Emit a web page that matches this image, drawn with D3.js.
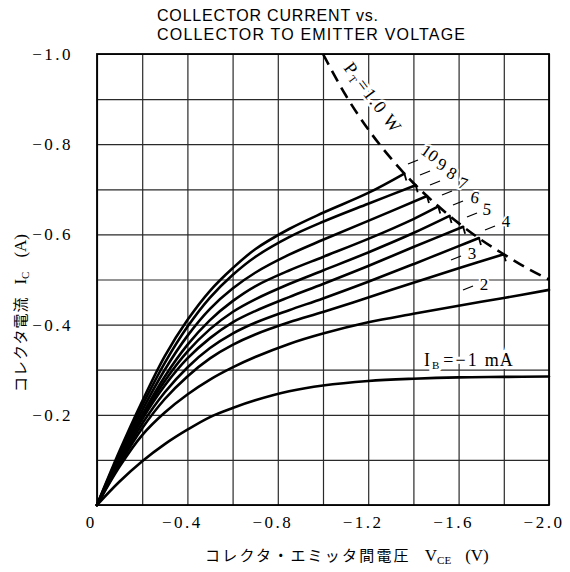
<!DOCTYPE html>
<html><head><meta charset="utf-8">
<script src="https://cdn.jsdelivr.net/npm/d3@7"></script>
<style>body{margin:0;background:#fff}svg{display:block}</style>
</head><body><svg id="c" width="570" height="572"></svg>
<script>
// ---------- data ----------
const xTickValues = [0, -0.4, -0.8, -1.2, -1.6, -2.0];
const yTickValues = [-0.2, -0.4, -0.6, -0.8, -1.0];
const ibNames = ["−1", "−2", "−3", "−4", "−5", "−6", "−7", "−8", "−9", "−10"];
const vce = [0, -0.1, -0.2, -0.3, -0.4, -0.5, -0.6, -0.7, -0.85, -1.0, -1.2, -1.4, -1.6, -1.8, -2.0];
const ic1  = [0, -0.052, -0.097, -0.135, -0.167, -0.195, -0.215, -0.232, -0.252, -0.265, -0.275, -0.280, -0.283, -0.284, -0.285];
const ic2  = [0, -0.085, -0.155, -0.205, -0.245, -0.278, -0.305, -0.328, -0.357, -0.380, -0.405, -0.424, -0.442, -0.459, -0.477];
const ic3  = [0, -0.090, -0.170, -0.235, -0.285, -0.325, -0.355, -0.378, -0.405, -0.428, -0.460, -0.493, -0.525];
const ic4  = [0, -0.095, -0.180, -0.250, -0.305, -0.348, -0.380, -0.404, -0.432, -0.458, -0.495, -0.534, -0.574];
const ic5  = [0, -0.100, -0.190, -0.265, -0.325, -0.370, -0.405, -0.430, -0.461, -0.490, -0.530, -0.572];
const ic6  = [0, -0.100, -0.195, -0.275, -0.340, -0.390, -0.428, -0.456, -0.490, -0.520, -0.560, -0.603];
const ic7  = [0, -0.105, -0.200, -0.285, -0.355, -0.410, -0.452, -0.485, -0.520, -0.550, -0.590, -0.634];
const ic8  = [0, -0.110, -0.210, -0.300, -0.375, -0.435, -0.480, -0.515, -0.555, -0.588, -0.630];
const ic9  = [0, -0.115, -0.220, -0.315, -0.395, -0.460, -0.510, -0.550, -0.594, -0.628, -0.668];
const ic10 = [0, -0.120, -0.230, -0.330, -0.410, -0.475, -0.525, -0.567, -0.612, -0.648, -0.692];
// end points of each curve (curves 3..10 stop on the P_T = 1.0 W line)
const endV = [-2.0, -2.0, -1.80, -1.69, -1.62, -1.56, -1.51, -1.46, -1.41, -1.36];
const endI = [-0.285, -0.477, -0.556, -0.592, -0.617, -0.641, -0.662, -0.685, -0.709, -0.735];
// P_T = 1.0 W dissipation line
const ptV = [-1.0, -1.1, -1.2, -1.3, -1.4, -1.5, -1.6, -1.7, -1.8, -1.9, -2.0];
const ptI = [-1.0, -0.909, -0.833, -0.769, -0.714, -0.667, -0.625, -0.588, -0.556, -0.526, -0.5];

// ---------- layout ----------
const svg = d3.select("#c");
const L = 97, R = 549, T = 54, B = 505;
const x = d3.scaleLinear().domain([0, -2.0]).range([L, R]);
const y = d3.scaleLinear().domain([0, -1.0]).range([B, T]);
const serif = "'Liberation Serif', 'DejaVu Serif', serif";
const sans = "'Liberation Sans', Arial, sans-serif";
const jp = "'Noto Sans CJK JP', sans-serif";

// grid
const gx = svg.append("g").attr("transform", `translate(0,${B})`)
  .call(d3.axisBottom(x).tickValues(d3.range(0, 11).map(i => -i * 0.2)).tickSize(-(B - T)).tickFormat(""));
const gy = svg.append("g").attr("transform", `translate(${L},0)`)
  .call(d3.axisLeft(y).tickValues(d3.range(0, 11).map(i => -i * 0.1)).tickSize(-(R - L)).tickFormat(""));
[gx, gy].forEach(g => {
  g.select(".domain").remove();
  g.selectAll("line").attr("stroke", "#2a2a2a").attr("stroke-width", 1.2);
});
svg.append("rect").attr("x", L).attr("y", T).attr("width", R - L).attr("height", B - T)
  .attr("fill", "none").attr("stroke", "#000").attr("stroke-width", 1.8);

// tick labels
const fmt = d => d === 0 ? "0" : "−" + Math.abs(d).toFixed(1);
svg.append("g").selectAll("text").data(xTickValues).join("text")
  .attr("x", d => x(d) + (d === 0 ? -7 : -5)).attr("y", 528)
  .attr("text-anchor", "middle").attr("font-family", serif).attr("font-size", 17)
  .attr("letter-spacing", d => d === 0 ? 0 : 2.5)
  .text(fmt);
svg.append("g").selectAll("text").data(yTickValues).join("text")
  .attr("x", 73).attr("y", d => y(d) + 6)
  .attr("text-anchor", "end").attr("font-family", serif).attr("font-size", 17)
  .attr("letter-spacing", 2.5)
  .text(fmt);

// title
svg.append("text").attr("x", 157).attr("y", 21).attr("font-family", sans).attr("font-size", 16)
  .attr("textLength", 221).attr("lengthAdjust", "spacing")
  .text("COLLECTOR CURRENT vs.");
svg.append("text").attr("x", 157).attr("y", 40).attr("font-family", sans).attr("font-size", 16)
  .attr("textLength", 308).attr("lengthAdjust", "spacing")
  .text("COLLECTOR TO EMITTER VOLTAGE");

// axis titles
const xt = svg.append("text").attr("x", 205).attr("y", 561).attr("font-size", 15);
xt.append("tspan").attr("font-family", jp).attr("letter-spacing", 2.2).text("コレクタ・エミッタ間電圧");
xt.append("tspan").attr("font-family", serif).attr("font-size", 17).attr("dx", 14).text("V");
xt.append("tspan").attr("font-family", serif).attr("font-size", 11).attr("dy", 3).text("CE");
xt.append("tspan").attr("font-family", serif).attr("font-size", 17).attr("dy", -3).attr("dx", 14).text("(V)");

const yt = svg.append("text").attr("transform", "translate(26,392) rotate(-90)").attr("font-size", 15);
yt.append("tspan").attr("font-family", jp).attr("letter-spacing", 1).text("コレクタ電流");
yt.append("tspan").attr("font-family", serif).attr("font-size", 17).attr("dx", 12).text("I");
yt.append("tspan").attr("font-family", serif).attr("font-size", 11).attr("dy", 3).text("C");
yt.append("tspan").attr("font-family", serif).attr("font-size", 17).attr("dy", -3).attr("dx", 14).text("(A)");

// curves
const icAll = [ic1, ic2, ic3, ic4, ic5, ic6, ic7, ic8, ic9, ic10];
const curves = icAll.map((arr, k) => {
  const pts = arr.map((v, i) => [vce[i], v]);
  if (pts[pts.length - 1][0] !== endV[k]) pts.push([endV[k], endI[k]]);
  return pts;
});
const line = d3.line().x(d => x(d[0])).y(d => y(d[1])).curve(d3.curveCatmullRom.alpha(0.5));
svg.append("g").selectAll("path").data(curves).join("path")
  .attr("d", line).attr("fill", "none").attr("stroke", "#000")
  .attr("stroke-width", 2.6).attr("stroke-linejoin", "round").attr("stroke-linecap", "round");

// little end flags on the curves that stop at the P_T line
svg.append("g").selectAll("line").data(d3.range(2, 10)).join("line")
  .attr("x1", k => x(endV[k])).attr("y1", k => y(endI[k]))
  .attr("x2", k => x(endV[k]) + 2).attr("y2", k => y(endI[k]) + 7)
  .attr("stroke", "#000").attr("stroke-width", 1.8);

// P_T dashed line
const ptPts = ptV.map((v, i) => [v, ptI[i]]);
svg.append("path").datum(ptPts)
  .attr("d", d3.line().x(d => x(d[0])).y(d => y(d[1])).curve(d3.curveMonotoneX))
  .attr("fill", "none").attr("stroke", "#000").attr("stroke-width", 2.6)
  .attr("stroke-dasharray", "12,7");

// P_T label
const pt = svg.append("text").attr("transform", "translate(343,68) rotate(53)")
  .attr("font-family", serif).attr("font-size", 18).attr("letter-spacing", 1.5)
  .attr("stroke", "#fff").attr("stroke-width", 5).attr("paint-order", "stroke");
pt.append("tspan").text("P");
pt.append("tspan").attr("font-size", 11).attr("dy", 3).text("T");
pt.append("tspan").attr("dy", -3).attr("dx", 1).text("=1.0 W");

// I_B labels: [number centre x, y, dash centre x, y, rotation]
const labLayout = [
  null,
  [484, 284, 468, 288, 0],
  [472, 253, 456, 258, 0],
  [506, 221, 490, 228, 0],
  [487, 209, 472, 215, 5],
  [475, 197, 458, 203, 10],
  [463, 183, 447, 193, 20],
  [452, 173, 435, 183, 30],
  [442, 164, 425, 173, 25],
  [430, 153, 413, 162, 35]
];
const labG = svg.append("g").attr("font-family", serif).attr("font-size", 17);
for (let k = 1; k < 10; k++) {
  const [nx, ny, dxp, dyp, rot] = labLayout[k];
  labG.append("line").attr("x1", dxp - 5).attr("y1", dyp + 2).attr("x2", dxp + 5).attr("y2", dyp - 2)
    .attr("stroke", "#000").attr("stroke-width", 1.3);
  labG.append("text").attr("transform", `translate(${nx},${ny}) rotate(${rot})`)
    .attr("text-anchor", "middle").attr("dy", 6)
    .attr("stroke", "#fff").attr("stroke-width", 4).attr("paint-order", "stroke")
    .text(ibNames[k].replace("−", ""));
}
// I_B = -1 mA
{
  const t = svg.append("text").attr("x", 424).attr("y", y(-0.308))
    .attr("font-family", serif).attr("font-size", 18)
    .attr("stroke", "#fff").attr("stroke-width", 6).attr("paint-order", "stroke");
  t.append("tspan").text("I");
  t.append("tspan").attr("font-size", 11).attr("dy", 3).attr("dx", 2).text("B");
  t.append("tspan").attr("dy", -3).attr("dx", 4).attr("letter-spacing", 2).text("=" + ibNames[0]);
  t.append("tspan").attr("dx", 6).attr("letter-spacing", 1).text("mA");
}
</script>
</body></html>
